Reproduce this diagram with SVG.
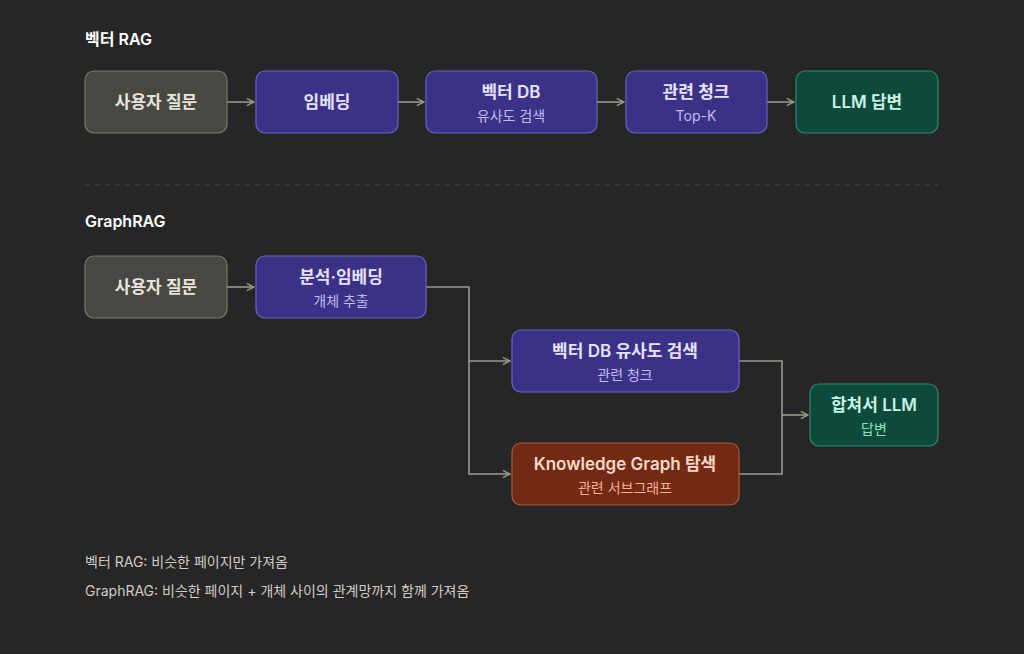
<svg xmlns="http://www.w3.org/2000/svg" width="1024" height="654" viewBox="0 0 1024 654">
<defs>
<marker id="ah" viewBox="0 0 10 10" refX="9" refY="5" markerWidth="9" markerHeight="9" markerUnits="userSpaceOnUse" orient="auto"><path d="M1,1 L9,5 L1,9" fill="none" stroke="#9a9890" stroke-width="1.6"/></marker>
</defs>
<style>
text{font-family:"Inter","Noto Sans CJK KR",sans-serif}
.t{fill:#ffffff;font-size:16px;font-weight:600}
.m{font-size:17px;font-weight:600;text-anchor:middle}
.s{font-size:14px;text-anchor:middle}
.gray rect{fill:#484843;stroke:#7a7a72;stroke-width:1.2}
.gray text{fill:#e6e4dc}
.pur rect{fill:#3b3287;stroke:#6b62c4;stroke-width:1.2}
.pur .m{fill:#e6e2ff}.pur .s{fill:#c2bcf4}
.grn rect{fill:#0d4a3b;stroke:#2d8a6e;stroke-width:1.2}
.grn .m{fill:#c9f2e2}.grn .s{fill:#8fe0c0}
.org rect{fill:#722a14;stroke:#b0583a;stroke-width:1.2}
.org .m{fill:#fbd9c8}.org .s{fill:#f4b294}
.c path{fill:none;stroke:#9a9890;stroke-width:1.6}
.f{fill:#cfcdc6;font-size:14px}
</style>
<rect width="1024" height="654" fill="#262626"/>
<text class="t" x="85" y="45">벡터 RAG</text>
<text class="t" x="85" y="227">GraphRAG</text>
<line x1="85" y1="185" x2="938" y2="185" stroke="#4a4a48" stroke-dasharray="5,5"/>
<g class="c">
<path d="M227,102 H254" marker-end="url(#ah)"/>
<path d="M398,102 H424" marker-end="url(#ah)"/>
<path d="M597,102 H624" marker-end="url(#ah)"/>
<path d="M767,102 H794" marker-end="url(#ah)"/>
<path d="M227,287 H254" marker-end="url(#ah)"/>
<path d="M426,287 H469 V361 H510" marker-end="url(#ah)"/>
<path d="M469,361 V474 H510" marker-end="url(#ah)"/>
<path d="M739,361 H782 V474 H739"/>
<path d="M782,415 H808" marker-end="url(#ah)"/>
</g>
<g id="q1" class="gray"><rect x="85" y="71" width="142" height="62" rx="9"/><text class="m" x="156" y="108">사용자 질문</text></g>
<g id="emb1" class="pur"><rect x="256" y="71" width="142" height="62" rx="9"/><text class="m" x="327" y="108">임베딩</text></g>
<g id="vdb1" class="pur"><rect x="426" y="71" width="171" height="62" rx="9"/><text class="m" x="511" y="98">벡터 DB</text><text class="s" x="511" y="121">유사도 검색</text></g>
<g id="chunk1" class="pur"><rect x="626" y="71" width="141" height="62" rx="9"/><text class="m" x="696" y="98">관련 청크</text><text class="s" x="696" y="121">Top-K</text></g>
<g id="llm1" class="grn"><rect x="796" y="71" width="142" height="62" rx="9"/><text class="m" x="867" y="108">LLM 답변</text></g>
<g id="q2" class="gray"><rect x="85" y="256" width="142" height="62" rx="9"/><text class="m" x="156" y="293">사용자 질문</text></g>
<g id="emb2" class="pur"><rect x="256" y="256" width="170" height="62" rx="9"/><text class="m" x="341" y="283">분석·임베딩</text><text class="s" x="341" y="306">개체 추출</text></g>
<g id="vdb2" class="pur"><rect x="512" y="330" width="227" height="62" rx="9"/><text class="m" x="625" y="357">벡터 DB 유사도 검색</text><text class="s" x="625" y="380">관련 청크</text></g>
<g id="kg" class="org"><rect x="512" y="443" width="227" height="62" rx="9"/><text class="m" x="625" y="470">Knowledge Graph 탐색</text><text class="s" x="625" y="493">관련 서브그래프</text></g>
<g id="llm2" class="grn"><rect x="810" y="384" width="128" height="62" rx="9"/><text class="m" x="874" y="411">합쳐서 LLM</text><text class="s" x="874" y="434">답변</text></g>
<text class="f" x="85" y="567">벡터 RAG: 비슷한 페이지만 가져옴</text>
<text class="f" x="85" y="596">GraphRAG: 비슷한 페이지 + 개체 사이의 관계망까지 함께 가져옴</text>
</svg>
